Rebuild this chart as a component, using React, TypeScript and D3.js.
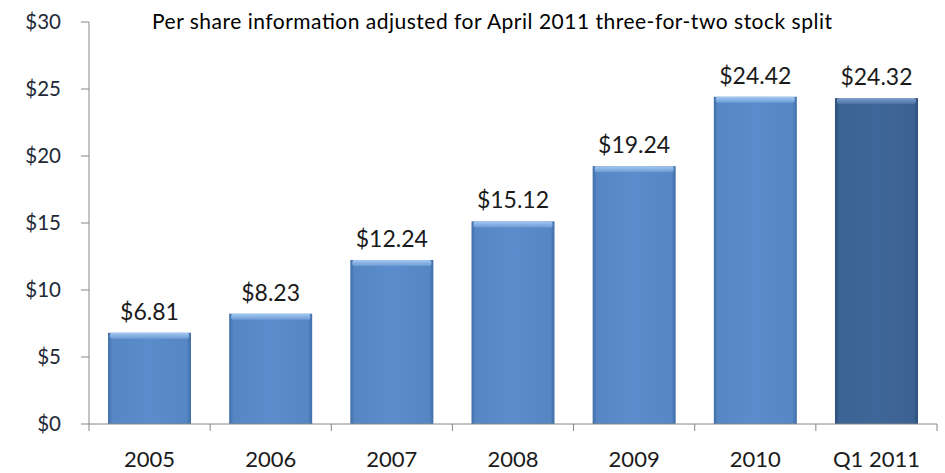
import React from "react";
import * as d3 from "d3";

const categories = ["2005", "2006", "2007", "2008", "2009", "2010", "Q1 2011"];
const values = [6.81, 8.23, 12.24, 15.12, 19.24, 24.42, 24.32];
const valueLabels = ["$6.81", "$8.23", "$12.24", "$15.12", "$19.24", "$24.42", "$24.32"];
const yTicks = [0, 5, 10, 15, 20, 25, 30];
const title = "Per share information adjusted for April 2011 three-for-two stock split";

const W = 945, H = 473;
const left = 89, right = 937, top = 22, bottom = 424;
const font = "Lato, 'Open Sans', sans-serif";

export default function App() {
  const x = d3.scaleBand<string>().domain(categories).range([left, right]).paddingInner(0.315).paddingOuter(0.157);
  const band = d3.scaleBand<string>().domain(categories).range([left, right]);
  const y = d3.scaleLinear().domain([0, 30]).range([bottom, top]);
  const bw = x.bandwidth();
  return (
    <svg width={W} height={H} style={{ position: "absolute", left: 0, top: 0 }}>
      <defs>
        <linearGradient id="g1" x1="0" x2="1" y1="0" y2="0">
          <stop offset="0" stopColor="#3f6ea8" />
          <stop offset="0.05" stopColor="#5687c4" />
          <stop offset="0.5" stopColor="#5b8ccb" />
          <stop offset="0.95" stopColor="#5686c3" />
          <stop offset="1" stopColor="#3f6ea8" />
        </linearGradient>
        <linearGradient id="g2" x1="0" x2="1" y1="0" y2="0">
          <stop offset="0" stopColor="#2c4d78" />
          <stop offset="0.05" stopColor="#3b6393" />
          <stop offset="0.5" stopColor="#3f6698" />
          <stop offset="0.95" stopColor="#3b6292" />
          <stop offset="1" stopColor="#2c4d78" />
        </linearGradient>
        <linearGradient id="t1" x1="0" x2="0" y1="0" y2="1">
          <stop offset="0" stopColor="#a4c8f2" />
          <stop offset="1" stopColor="#6c9bd4" />
        </linearGradient>
        <linearGradient id="t2" x1="0" x2="0" y1="0" y2="1">
          <stop offset="0" stopColor="#7f9fcd" />
          <stop offset="1" stopColor="#4a72a4" />
        </linearGradient>
      </defs>
      <rect width={W} height={H} fill="#fff" />
      <text x={152} y={29} textLength={680} lengthAdjust="spacing" fontFamily={font} fontSize={21} fill="#000">{title}</text>
      {/* y axis */}
      <line x1={left} x2={left} y1={top} y2={bottom} stroke="#868686" />
      {yTicks.map((t) => (
        <g key={t}>
          <line x1={left - 8} x2={left} y1={y(t)} y2={y(t)} stroke="#868686" />
          <text x={61} y={y(t) + 7} textAnchor="end" fontFamily={font} fontSize={20.5} fill="#1f2a38">${t}</text>
        </g>
      ))}
      {/* bars */}
      {categories.map((c, i) => {
        const bx = x(c)!;
        const by = y(values[i]);
        const h = bottom - by;
        const last = i === categories.length - 1;
        return (
          <g key={c}>
            <rect x={bx} y={by} width={bw} height={h} fill={last ? "url(#g2)" : "url(#g1)"} />
            <rect x={bx + 2} y={by} width={bw - 4} height={6} rx={2} fill={last ? "url(#t2)" : "url(#t1)"} />
            <text x={bx + bw / 2} y={by - 13} textAnchor="middle" fontFamily={font} fontSize={23} fill="#1a1a1a">{valueLabels[i]}</text>
          </g>
        );
      })}
      {/* x axis */}
      <line x1={left} x2={right} y1={bottom} y2={bottom} stroke="#868686" />
      {categories.map((c) => (
        <line key={c} x1={band(c)!} x2={band(c)!} y1={bottom} y2={bottom + 7} stroke="#868686" />
      ))}
      <line x1={right} x2={right} y1={bottom} y2={bottom + 7} stroke="#868686" />
      {categories.map((c) => (
        <text key={c} x={band(c)! + band.bandwidth() / 2} y={467} textAnchor="middle" fontFamily={font} fontSize={22} fill="#1a1a1a">{c}</text>
      ))}
    </svg>
  );
}
